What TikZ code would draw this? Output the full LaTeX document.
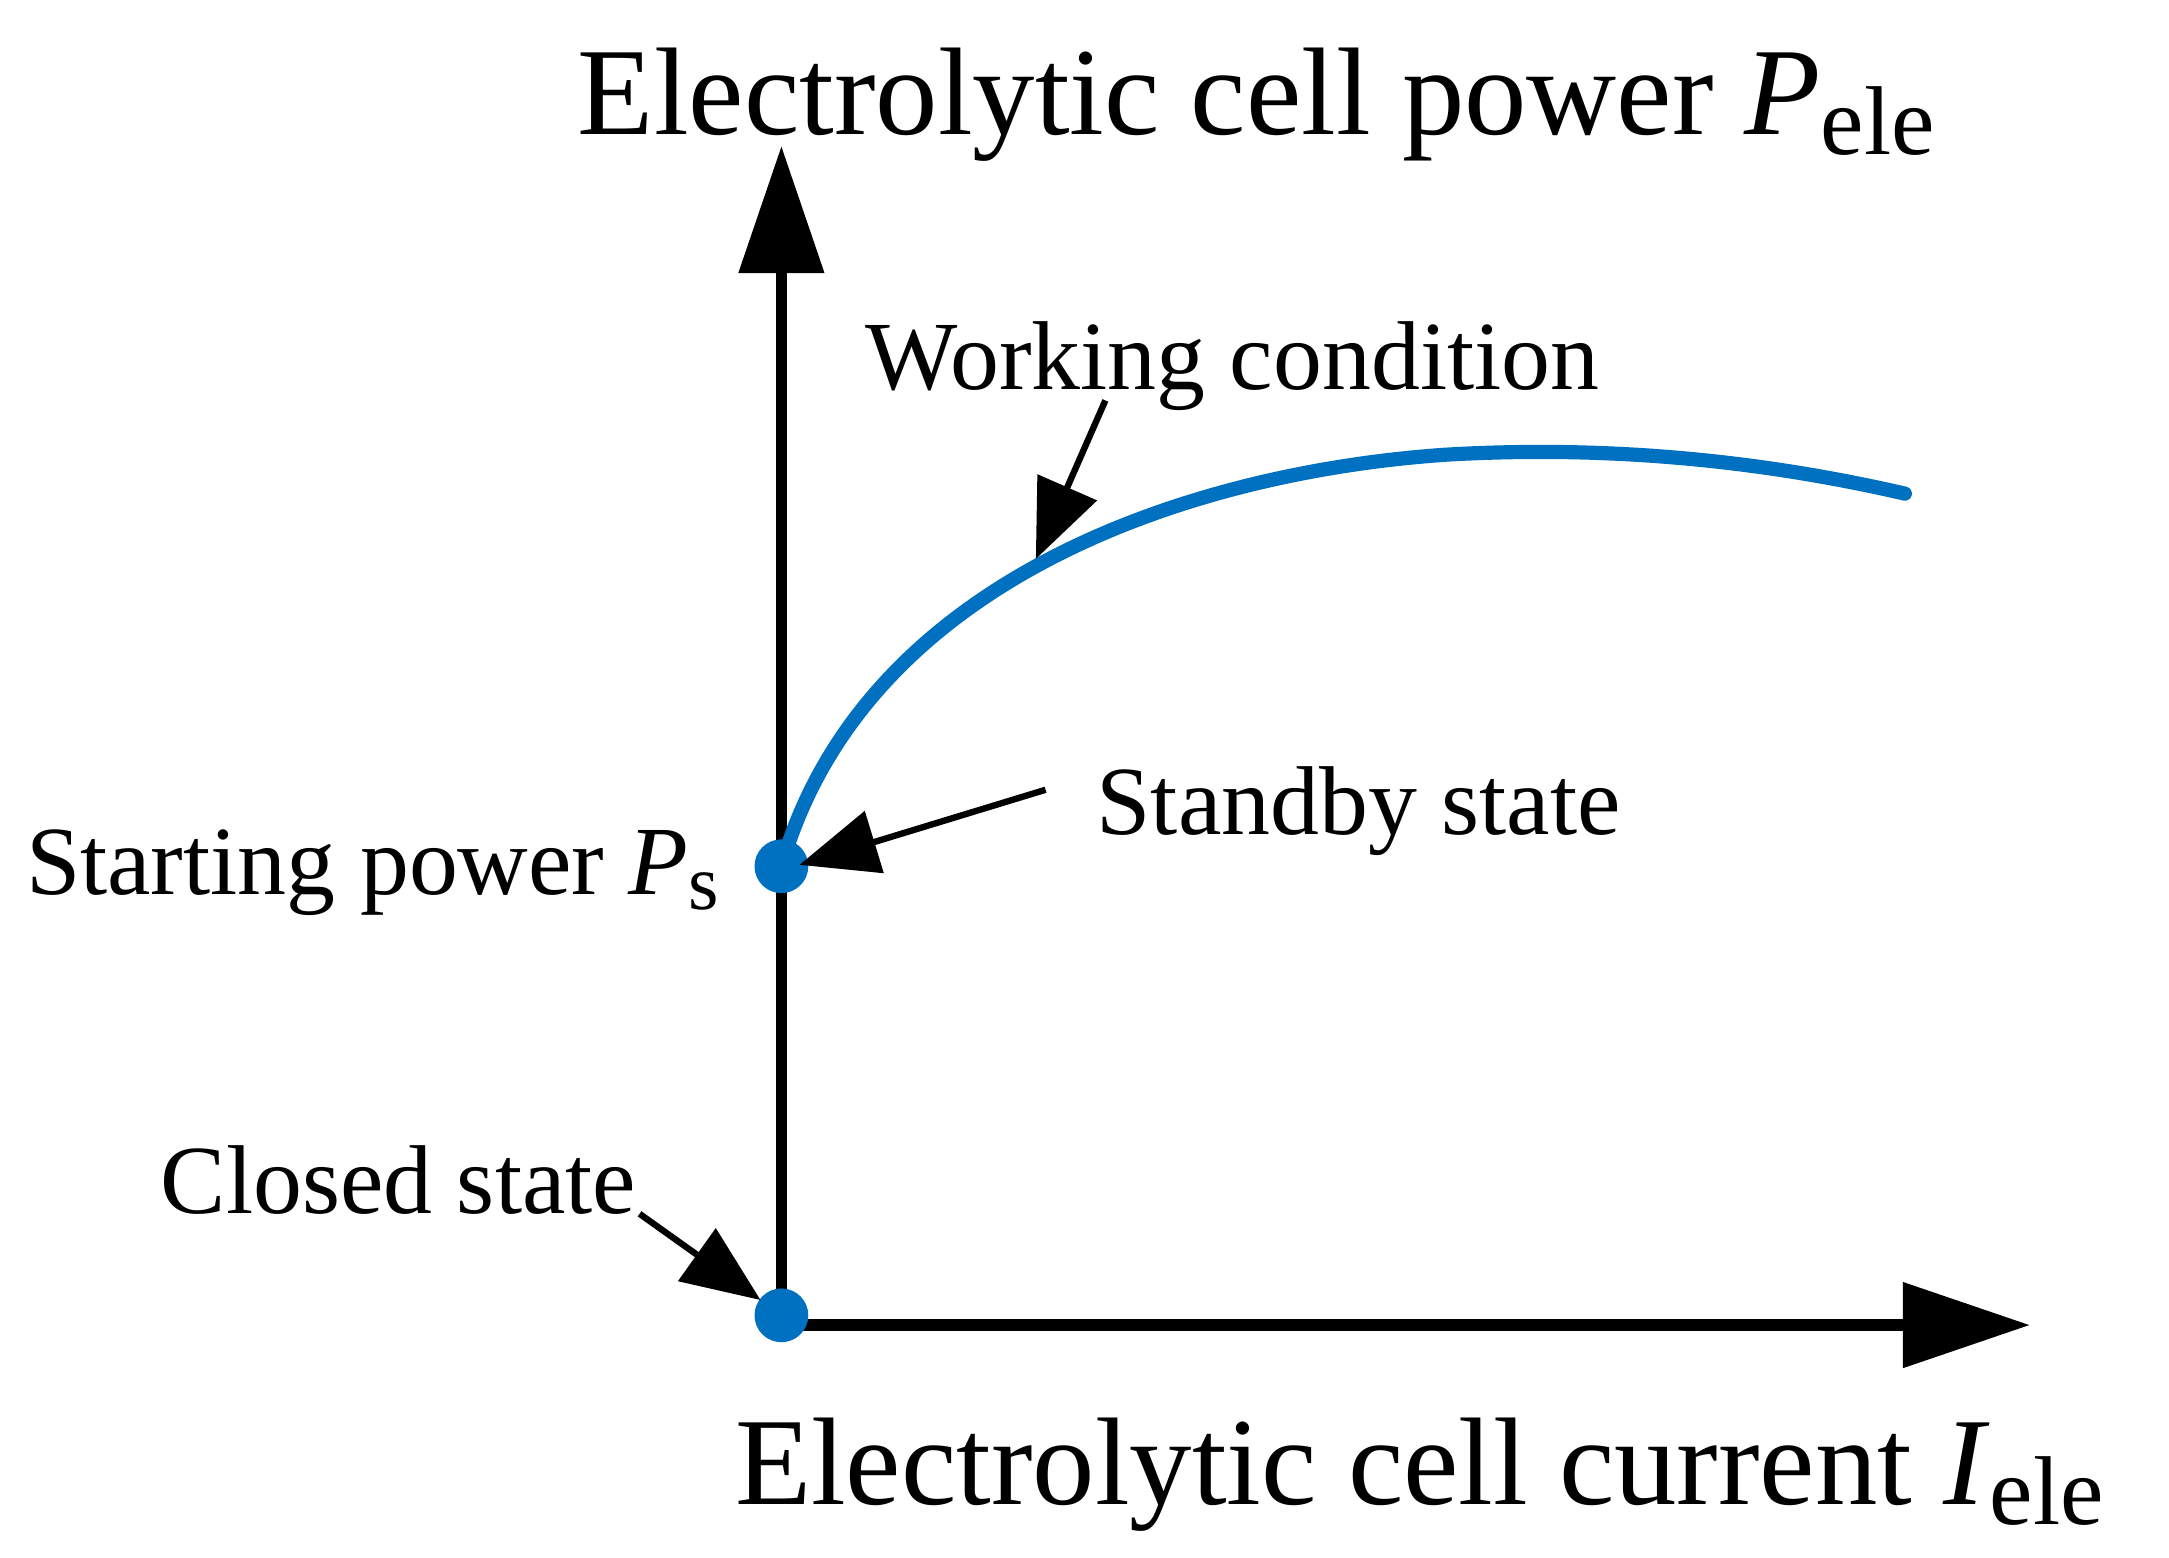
\documentclass[tikz,border=0pt]{standalone}
\usepackage{fontspec}
\setmainfont{Liberation Serif}
\usetikzlibrary{arrows.meta}
\definecolor{cblue}{RGB}{0,112,192}
\newcommand{\mysub}[2]{\raisebox{-0.16em}{\fontsize{#1}{#1}\selectfont #2}}
\begin{document}
\begin{tikzpicture}[x=0.01cm,y=-0.01cm,
  axis/.style={line width=2.3pt,-{Triangle[length=26pt,width=17pt]}},
  pt/.style={circle,fill=cblue,inner sep=0pt,minimum size=11pt},
  lbl/.style={-{Triangle[length=16pt,width=13pt]},line width=1.3pt},
  big/.style={font=\fontsize{25.5}{28}\selectfont,inner sep=0pt},
  mid/.style={font=\fontsize{20}{24}\selectfont,inner sep=0pt}]
\useasboundingbox (0,0) rectangle (1560,1120);
\coordinate (O) at (562,953);
\coordinate (ytip) at (562,105);
\coordinate (xtip) at (1460,953);
\draw[axis] (O) -- (ytip);
\draw[axis] (O) -- (xtip);
\draw[cblue,line width=2.9pt,line cap=round] (562,623) .. controls (620,420) and (850,340) .. (1040,327) .. controls (1160,320) and (1270,332) .. (1370,355);
\node[pt] (ps) at (562,623) {};
\node[pt] (cl) at (562,946) {};
\node[big,anchor=base west] (t1) at (415,97) {Electrolytic cell power \textit{P}\mysub{20}{ele}};
\node[big,anchor=base west] (t2) at (528,1082) {Electrolytic cell current \textit{I}\mysub{20}{ele}};
\node[mid,anchor=base west] (wc) at (622,280) {Working condition};
\node[mid,anchor=base west] (sb) at (788,600) {Standby state};
\node[mid,anchor=base west] (sp) at (18,643) {Starting power \textit{P}\mysub{16}{s}};
\node[mid,anchor=base west] (cs) at (115,873) {Closed state};
\coordinate (w0) at (795,288); \coordinate (w1) at (745,402);
\coordinate (s0) at (752,568); \coordinate (s1) at (575,622);
\coordinate (c0) at (460,873); \coordinate (c1) at (547,935);
\draw[lbl] (w0) -- (w1);
\draw[lbl] (s0) -- (s1);
\draw[lbl] (c0) -- (c1);
\end{tikzpicture}
\end{document}
